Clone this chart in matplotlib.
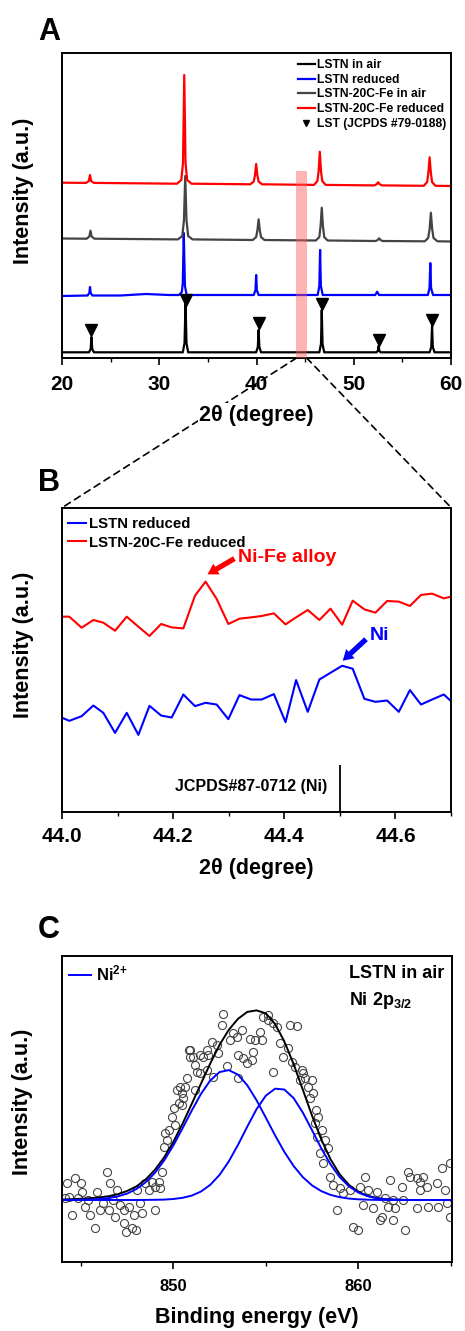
import numpy as np
import matplotlib.pyplot as plt
from matplotlib.patches import ConnectionPatch
from matplotlib.ticker import MultipleLocator, FormatStrFormatter

plt.rcParams.update({
    'font.family': ['Liberation Sans', 'DejaVu Sans'],
    'font.weight': 'bold',
    'axes.labelweight': 'bold',
    'axes.linewidth': 1.4,
    'mathtext.fontset': 'custom',
    'mathtext.rm': 'Liberation Sans:bold',
    'mathtext.it': 'Liberation Sans:bold',
    'mathtext.bf': 'Liberation Sans:bold',
    'mathtext.default': 'rm',
})

# ---------------- panel A: XRD patterns (offset, arbitrary units) ----------------
black_x = [20, 22.75, 22.92, 23.0, 23.08, 23.25, 32.4, 32.58, 32.68, 32.78, 32.95,
           39.95, 40.12, 40.2, 40.28, 40.45, 46.45, 46.62, 46.7, 46.78, 46.95,
           52.35, 52.48, 52.55, 52.62, 52.75, 57.8, 57.97, 58.05, 58.13, 58.3, 60]
black_y = [5.7, 5.7, 9, 21, 9, 5.7, 5.7, 15, 56, 15, 5.7,
           5.7, 11, 28, 11, 5.7, 5.7, 14, 48, 14, 5.7,
           5.7, 7.5, 12, 7.5, 5.7, 5.7, 11, 32, 11, 5.7, 5.7]

blue_x = [20, 22.6, 22.78, 22.85, 22.92, 23.1, 26.0, 28.6, 31.0, 32.0, 32.3, 32.4, 32.5,
          32.62, 32.8, 39.7, 39.88, 39.95, 40.02, 40.2, 46.28, 46.45, 46.53, 46.61, 46.8,
          52.2, 52.33, 52.4, 52.47, 52.6, 57.62, 57.79, 57.87, 57.95, 58.15, 60]
blue_y = [62, 62.5, 65, 71, 65, 62.5, 62.5, 64, 63, 63, 66, 75, 125,
          72, 63, 63, 68, 83, 68, 63, 63, 72, 108, 72, 63,
          63, 65, 66.3, 65, 63, 63, 70, 95, 70, 63, 63]

gray_x = [20, 22.5, 22.78, 22.9, 23.02, 23.3, 31.9, 32.35, 32.52, 32.65, 32.78, 32.95, 33.4,
          39.6, 39.95, 40.08, 40.2, 40.32, 40.45, 40.8, 46.1, 46.45, 46.58, 46.7, 46.82,
          46.95, 47.3, 52.25, 52.45, 52.6, 52.75, 52.95, 57.3, 57.65, 57.8, 57.93, 58.06,
          58.2, 58.6, 60]
gray_y = [119.5, 119.3, 121.5, 127.3, 121.5, 119.3, 118.6, 122, 138, 182, 138, 122, 118.6,
          118, 121, 128, 138.7, 128, 121, 118, 117.5, 121, 132, 150.3, 132,
          121, 117.5, 117, 118, 119.7, 118, 117, 116.7, 120, 129, 145.3, 129,
          120, 116.7, 116.5]

red_x = [20, 22.45, 22.73, 22.85, 22.97, 23.25, 31.8, 32.25, 32.42, 32.55, 32.68, 32.85, 33.3,
         39.35, 39.7, 39.83, 39.95, 40.07, 40.2, 40.55, 45.9, 46.25, 46.38, 46.5, 46.62,
         46.75, 47.1, 52.1, 52.35, 52.5, 52.65, 52.9, 57.2, 57.55, 57.68, 57.8, 57.92,
         58.05, 58.4, 60]
red_y = [175.3, 175.1, 177, 183, 177, 175.1, 174.3, 178, 195, 283, 195, 178, 174.3,
         173.7, 176.5, 183, 194, 183, 176.5, 173.7, 173.1, 177, 187, 206.3, 187,
         177, 173.1, 172.6, 173.8, 175.7, 173.8, 172.6, 172.2, 176, 186, 200.7, 186,
         176, 172.2, 172]

lst_pos = [23.0, 32.68, 40.2, 46.7, 52.55, 58.05]
lst_y = [28, 58, 35, 54, 18, 38]

band_lo, band_hi, band_top = 44.1, 45.15, 187

# ---------------- panel B: zoom 44.0-44.7 ----------------
b_x = [44.0, 44.0126, 44.0349, 44.0559, 44.0739, 44.095, 44.116, 44.137, 44.157, 44.178,
       44.197, 44.218, 44.239, 44.258, 44.278, 44.299, 44.319, 44.340, 44.359, 44.381,
       44.402, 44.421, 44.442, 44.463, 44.483, 44.504, 44.523, 44.544, 44.564, 44.585,
       44.606, 44.626, 44.646, 44.666, 44.687, 44.7]
b_red = [195, 195, 184, 191.7, 189, 181, 195, 185, 175.7, 187.7,
         184.3, 183.3, 216, 230, 212.7, 187.7, 193, 194.3, 195.7, 198.3,
         187.3, 194.3, 201.7, 191.7, 203, 187, 211, 202.3, 199, 210.7,
         210, 205.7, 216.7, 218, 213.3, 215]
b_blue = [94, 91, 95.7, 106.3, 99, 79, 99, 77, 106, 96.3,
          94.3, 117.3, 105.7, 109, 107.3, 92.7, 116.7, 112.3, 112.3, 117.7,
          89.7, 131.7, 100, 132.3, 139, 146, 143, 113, 110, 111.3,
          100, 121.7, 107.3, 112.3, 117.3, 110.7]
ni_ref_pos, ni_ref_h = 44.5, 46.7

# ---------------- panel C: XPS Ni 2p3/2 ----------------
c_pts = [
    (844.14, 1.7), (844.25, 16.7), (844.34, 3.3), (844.52, -15), (844.70, 21.7), (844.86, 1.7),
    (845.03, 17.3), (845.06, 8.3), (845.24, -6.7), (845.41, 0), (845.50, -15), (845.78, -28.3),
    (845.87, 8.3), (846.05, -10), (846.22, -3.3), (846.41, 28.3), (846.50, -10), (846.59, 17.3),
    (846.76, 0), (846.86, -16.7), (846.95, 10), (847.12, -5), (847.32, -10), (847.32, -23.3),
    (847.44, -31.7), (847.59, -6.7), (847.77, -28.3), (847.86, -15), (847.98, -30), (848.04, 10),
    (848.22, -3.3), (848.31, -13.3), (848.49, 16.7), (848.67, 10), (848.85, 18.3), (849.03, 13.3),
    (849.03, -10), (849.21, 18.3), (849.39, 28.3), (849.28, 11.7), (849.48, 53.3), (849.55, 66.7),
    (849.64, 60), (849.75, 70), (849.91, 83.3), (850.02, 91.7), (850.11, 75), (850.20, 110),
    (850.29, 96.7), (850.36, 113.3), (850.45, 106.7), (850.45, 95), (850.54, 101.7), (850.63, 113.3),
    (850.72, 121.7), (850.83, 150), (850.90, 150), (850.92, 143.3), (851.08, 143.3), (851.17, 135),
    (851.17, 110), (851.26, 128.3), (851.44, 126.7), (851.44, 145), (851.62, 143.3), (851.80, 150),
    (851.80, 130), (851.89, 145), (852.07, 158.3), (852.16, 122.7), (852.34, 155), (852.43, 146.7),
    (852.61, 175), (852.70, 186), (852.88, 134), (853.06, 160), (853.24, 166.7), (853.42, 163.3),
    (853.51, 145), (853.51, 121.7), (853.69, 170), (853.78, 141.7), (853.96, 136.7), (854.14, 160.7),
    (854.23, 140), (854.32, 148.3), (854.41, 160), (854.68, 168.3), (854.77, 160), (854.86, 183.3),
    (855.14, 180), (855.14, 185), (855.41, 177.3), (855.41, 128.3), (855.59, 173.3), (855.77, 156.7),
    (855.95, 143.3), (856.22, 151.7), (856.31, 175), (856.40, 138.3), (856.58, 133.3), (856.67, 174),
    (856.85, 120), (856.94, 130), (857.03, 126.7), (857.12, 121.7), (857.30, 113.3), (857.48, 120),
    (857.39, 101.7), (857.57, 106.7), (857.71, 90), (857.84, 83.3), (857.66, 76.7), (857.75, 63.3),
    (858.02, 70), (858.20, 60), (858.38, 51.7), (857.93, 46.7), (858.11, 36.7), (858.47, 23.3),
    (858.65, 15), (859.01, 11.7), (859.19, 6.7), (858.83, -10), (859.55, 10), (860.09, 13.3),
    (860.36, 23.3), (860.54, 10), (860.99, 8.3), (860.81, -8.3), (861.26, -16.7), (861.62, -6.7),
    (861.71, 20), (861.98, -8.3), (862.34, 13.3), (862.70, 28.3), (862.79, 23.3), (863.15, 21.7),
    (863.51, 23.3), (863.33, 10), (863.69, 13.3), (863.78, -6.7), (864.23, 16.7), (864.50, 31.7),
    (864.68, 10), (864.77, -3.3), (864.32, -6.7), (863.15, -8.3), (862.43, 0), (861.89, 0),
    (861.44, 1.7), (859.73, -26.7), (860.27, -5), (861.17, -20), (861.89, -20), (864.95, 36.7),
    (864.95, -16.7), (863.33, 18.3), (860.00, -30), (862.52, -30),
]
c_ev = [p[0] for p in c_pts]
c_int = [p[1] for p in c_pts]

fit_x = np.arange(844, 865.01, 0.5)
fit_ni1 = [0.0, 0.1, 0.2, 0.5, 1.0, 1.9, 3.6, 6.4, 10.9, 17.6, 27.0, 39.4, 54.5, 71.7, 89.5,
           106.2, 119.6, 127.9, 129.9, 125.3, 114.7, 99.8, 82.4, 64.7, 48.2, 34.1, 22.9, 14.6,
           8.9, 5.1, 2.8, 1.4, 0.7, 0.3, 0.1, 0, 0, 0, 0, 0, 0, 0, 0]
fit_ni2 = [0, 0, 0, 0, 0, 0, 0, 0, 0.0, 0.1, 0.2, 0.4, 1.0, 2.2, 4.4, 8.5, 15.2, 25.1, 38.6,
           55.2, 73.4, 90.8, 104.3, 111.3, 110.5, 102.0, 87.5, 69.8, 51.7, 35.6, 22.8, 13.6,
           7.5, 3.9, 1.8, 0.8, 0.3, 0.1, 0, 0, 0, 0, 0]
fit_env = [0.5, 0.8, 1.2, 1.8, 2.6, 3.8, 5.8, 9.0, 13.5, 20.4, 30.0, 42.5, 58.0, 76.3, 96.3,
           116.5, 136.6, 155.1, 170.2, 181.2, 188.1, 189.6, 186.7, 176.0, 158.7, 136.1, 110.4,
           84.4, 60.6, 40.7, 25.6, 15.0, 8.2, 4.2, 1.9, 0.8, 0.3, 0.1, 0, 0, 0, 0, 0]

# ---------------- layout ----------------
W, H = 465, 1331
fig = plt.figure(figsize=(W / 100, H / 100), dpi=100)


def px_axes(l, t, r, b):
    return fig.add_axes([l / W, 1 - b / H, (r - l) / W, (b - t) / H])


axA = px_axes(62.3, 53, 451, 358)
axB = px_axes(62.3, 507.5, 451, 812)
axC = px_axes(62.3, 956, 451.7, 1262)

for ax in (axA, axB, axC):
    ax.tick_params(left=False, labelleft=False)
    ax.tick_params(axis='x', which='major', direction='out', length=5, width=1.2)
    ax.tick_params(axis='x', which='minor', direction='out', length=3, width=1.0)

# Panel A
axA.plot(black_x, black_y, color='black', lw=1.6, label='LSTN in air')
axA.plot(blue_x, blue_y, color='#0000ff', lw=1.6, label='LSTN reduced')
axA.plot(gray_x, gray_y, color='#444444', lw=1.6, label='LSTN-20C-Fe in air')
axA.plot(red_x, red_y, color='#ff0000', lw=1.6, label='LSTN-20C-Fe reduced')
axA.plot(lst_pos, lst_y, 'v', color='black', ms=8, ls='none', label='LST (JCPDS #79-0188)')
axA.fill_between([band_lo, band_hi], 0, band_top, color='#ff5a5a', alpha=0.45, lw=0, zorder=5)
axA.set_xlim(20, 60)
axA.set_ylim(0, 305)
axA.xaxis.set_major_locator(MultipleLocator(10))
axA.xaxis.set_minor_locator(MultipleLocator(5))
axA.tick_params(axis='x', labelsize=15, pad=7)
axA.set_xlabel('2θ (degree)', fontsize=15.5, va='center',
               bbox=dict(fc='white', ec='none', pad=1))
axA.xaxis.set_label_coords(0.5, -0.187)
axA.set_ylabel('Intensity (a.u.)', fontsize=15.5, va='center')
axA.yaxis.set_label_coords(-0.101, 0.548)
axA.legend(loc='upper right', bbox_to_anchor=(0.987, 0.98), frameon=False, fontsize=8.7,
           handlelength=1.4, handletextpad=0.15, labelspacing=0.22, borderaxespad=0,
           borderpad=0, markerscale=0.6)

# Panel B
axB.plot(b_x, b_blue, color='#0000ff', lw=1.5, label='LSTN reduced')
axB.plot(b_x, b_red, color='#ff0000', lw=1.5, label='LSTN-20C-Fe reduced')
axB.vlines(ni_ref_pos, 0, ni_ref_h, color='black', lw=1.3)
axB.text(44.477, 25, 'JCPDS#87-0712 (Ni)', fontsize=11.5, ha='right', va='center')
arrow_style = 'simple,head_length=0.75,head_width=0.9,tail_width=0.38'
axB.annotate('', xy=(44.2615, 237.3), xytext=(44.310, 253),
             arrowprops=dict(arrowstyle=arrow_style, color='#ff0000', lw=0, shrinkA=0, shrinkB=0))
axB.text(44.317, 254.3, 'Ni-Fe alloy', color='#ff0000', fontsize=14, ha='left', va='center')
axB.annotate('', xy=(44.505, 151), xytext=(44.547, 172.5),
             arrowprops=dict(arrowstyle=arrow_style, color='#0000ff', lw=0, shrinkA=0, shrinkB=0))
axB.text(44.554, 176.7, 'Ni', color='#0000ff', fontsize=14, ha='left', va='center')
axB.set_xlim(44.0, 44.7)
axB.set_ylim(0, 304)
axB.xaxis.set_major_locator(MultipleLocator(0.2))
axB.xaxis.set_minor_locator(MultipleLocator(0.1))
axB.xaxis.set_major_formatter(FormatStrFormatter('%.1f'))
axB.tick_params(axis='x', labelsize=15, pad=6)
axB.set_xlabel('2θ (degree)', fontsize=15.5, va='center')
axB.xaxis.set_label_coords(0.5, -0.184)
axB.set_ylabel('Intensity (a.u.)', fontsize=15.5, va='center')
axB.yaxis.set_label_coords(-0.101, 0.548)
axB.legend(loc='upper left', bbox_to_anchor=(0.015, 0.968), frameon=False, fontsize=10.8,
           handlelength=1.2, handletextpad=0.22, labelspacing=0.3, borderaxespad=0,
           borderpad=0)

# Panel C
axC.plot(c_ev, c_int, 'o', ls='none', ms=5.8, mfc='none', mec='#444444', mew=0.8)
axC.plot(fit_x, fit_env, color='black', lw=1.4)
axC.plot(fit_x, fit_ni1, color='#0000ff', lw=1.4, label=r'Ni$^{2{+}}$')
axC.plot(fit_x, fit_ni2, color='#0000ff', lw=1.4)
axC.set_xlim(844, 865.05)
axC.set_ylim(-62, 244)
axC.xaxis.set_major_locator(MultipleLocator(10))
axC.xaxis.set_minor_locator(MultipleLocator(5))
axC.tick_params(axis='x', labelsize=12, pad=7)
axC.set_xlabel('Binding energy (eV)', fontsize=15.5, va='center')
axC.xaxis.set_label_coords(0.5, -0.183)
axC.set_ylabel('Intensity (a.u.)', fontsize=15.5, va='center')
axC.yaxis.set_label_coords(-0.101, 0.524)
axC.legend(loc='upper left', bbox_to_anchor=(0.018, 0.975), frameon=False, fontsize=12,
           handlelength=1.3, handletextpad=0.3, borderaxespad=0, borderpad=0)
axC.text(0.98, 0.944, 'LSTN in air', transform=axC.transAxes, fontsize=13, ha='right', va='center')
axC.text(0.735, 0.853, 'Ni 2p$_{3/2}$', transform=axC.transAxes, fontsize=13, ha='left', va='center')

# zoom connectors
for xa, xb in ((band_lo, 0), (band_hi, 1)):
    con = ConnectionPatch(xyA=(xa, 0), coordsA=axA.transData, xyB=(xb, 1), coordsB=axB.transAxes,
                          ls=(0, (4, 3)), lw=1.2, color='black', zorder=-1)
    fig.add_artist(con)

# panel letters
fig.text(49 / W, 1 - 32 / H, 'A', fontsize=22, ha='center', va='center')
fig.text(49 / W, 1 - 483 / H, 'B', fontsize=22, ha='center', va='center')
fig.text(49 / W, 1 - 930 / H, 'C', fontsize=22, ha='center', va='center')

fig.savefig('out.png', dpi=100)
